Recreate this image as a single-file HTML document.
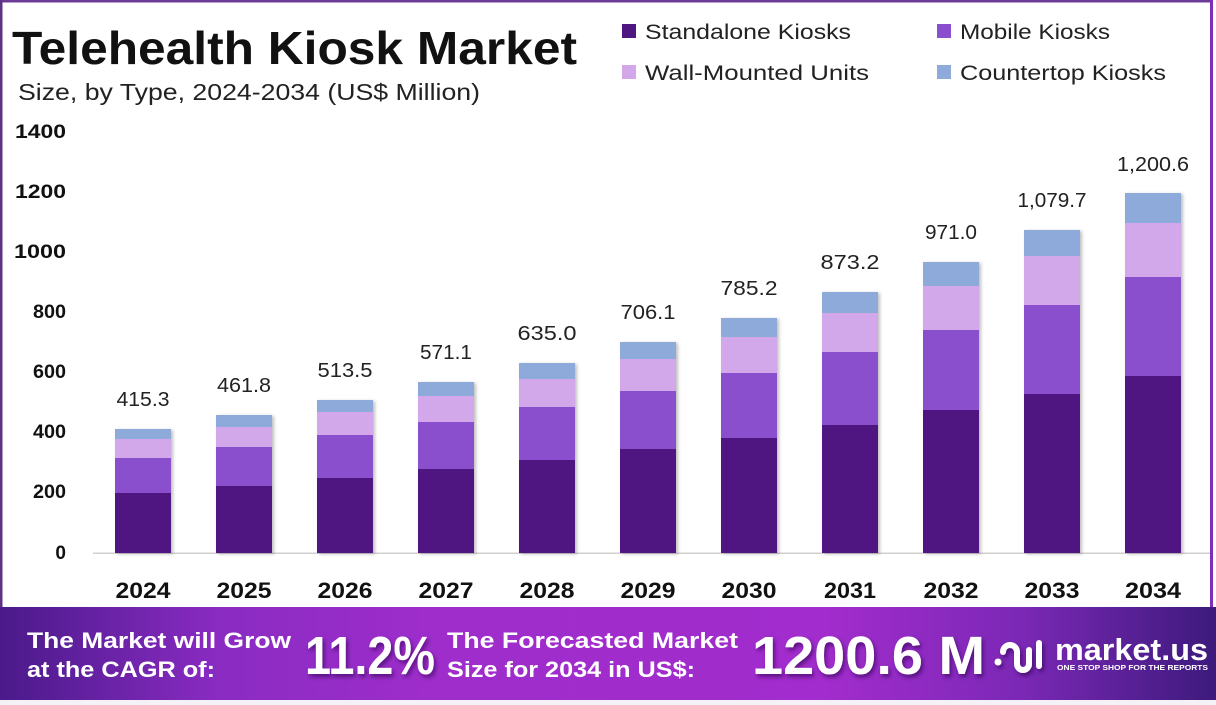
<!DOCTYPE html>
<html>
<head>
<meta charset="utf-8">
<style>
html,body{margin:0;padding:0;background:#fff;}
svg{display:block;}
text{font-family:"Liberation Sans", Arial, sans-serif;}
</style>
</head>
<body>
<svg width="1216" height="705" viewBox="0 0 1216 705" xmlns="http://www.w3.org/2000/svg">
<defs>
  <linearGradient id="ban" x1="0" y1="0" x2="1" y2="0">
    <stop offset="0" stop-color="#4a1a8a"/>
    <stop offset="0.18" stop-color="#8a2bc2"/>
    <stop offset="0.35" stop-color="#9e2dcb"/>
    <stop offset="0.68" stop-color="#a22ccd"/>
    <stop offset="0.84" stop-color="#7b28b6"/>
    <stop offset="1" stop-color="#3d1a7c"/>
  </linearGradient>
  <filter id="sh" x="-20%" y="-20%" width="150%" height="150%">
    <feDropShadow dx="2" dy="1" stdDeviation="1.5" flood-color="#000" flood-opacity="0.25"/>
  </filter>
  <filter id="tsh" x="-10%" y="-10%" width="130%" height="140%">
    <feDropShadow dx="2" dy="3" stdDeviation="2" flood-color="#2a0650" flood-opacity="0.6"/>
  </filter>
</defs>

<!-- frame -->
<rect x="0" y="0" width="1216" height="705" fill="#fff"/>
<rect x="0" y="0" width="1213" height="2.5" fill="#6c3b95"/>
<rect x="0" y="0" width="2.5" height="610" fill="#5e3386"/>
<rect x="1210" y="0" width="3" height="610" fill="#7a30bd"/>

<!-- title -->
<text x="12" y="64" font-size="46" font-weight="bold" fill="#111" textLength="565" lengthAdjust="spacingAndGlyphs">Telehealth Kiosk Market</text>
<text x="18" y="100" font-size="23" fill="#222" textLength="462" lengthAdjust="spacingAndGlyphs">Size, by Type, 2024-2034 (US$ Million)</text>

<!-- legend -->
<rect x="622" y="24" width="14" height="14" fill="#4f1681"/>
<text x="645" y="39" font-size="21" fill="#222" textLength="206" lengthAdjust="spacingAndGlyphs">Standalone Kiosks</text>
<rect x="937" y="24" width="14" height="14" fill="#8a4fcc"/>
<text x="960" y="39" font-size="21" fill="#222" textLength="150" lengthAdjust="spacingAndGlyphs">Mobile Kiosks</text>
<rect x="622" y="65" width="14" height="14" fill="#d2a8ea"/>
<text x="645" y="80" font-size="21" fill="#222" textLength="224" lengthAdjust="spacingAndGlyphs">Wall-Mounted Units</text>
<rect x="937" y="65" width="14" height="14" fill="#8eaadb"/>
<text x="960" y="80" font-size="21" fill="#222" textLength="206" lengthAdjust="spacingAndGlyphs">Countertop Kiosks</text>

<!-- y axis labels -->
<g font-size="19" font-weight="bold" fill="#111" text-anchor="end">
  <text x="66" y="138" textLength="51" lengthAdjust="spacingAndGlyphs">1400</text>
  <text x="66" y="198" textLength="51" lengthAdjust="spacingAndGlyphs">1200</text>
  <text x="66" y="258" textLength="52" lengthAdjust="spacingAndGlyphs">1000</text>
  <text x="66" y="318" textLength="33" lengthAdjust="spacingAndGlyphs">800</text>
  <text x="66" y="378" textLength="33" lengthAdjust="spacingAndGlyphs">600</text>
  <text x="66" y="438" textLength="33" lengthAdjust="spacingAndGlyphs">400</text>
  <text x="66" y="498" textLength="33" lengthAdjust="spacingAndGlyphs">200</text>
  <text x="66" y="559">0</text>
</g>

<!-- baseline -->
<rect x="93" y="552.5" width="1117" height="1.5" fill="#d0d0d0"/>

<!-- bars -->
<g filter="url(#sh)">
  <!-- 2024 -->
  <rect x="115" y="429" width="56" height="10" fill="#8eaadb"/>
  <rect x="115" y="439" width="56" height="19" fill="#d2a8ea"/>
  <rect x="115" y="458" width="56" height="35" fill="#8a4fcc"/>
  <rect x="115" y="493" width="56" height="60" fill="#4f1681"/>
  <!-- 2025 -->
  <rect x="216" y="415" width="56" height="12" fill="#8eaadb"/>
  <rect x="216" y="427" width="56" height="20" fill="#d2a8ea"/>
  <rect x="216" y="447" width="56" height="39" fill="#8a4fcc"/>
  <rect x="216" y="486" width="56" height="67" fill="#4f1681"/>
  <!-- 2026 -->
  <rect x="317" y="400" width="56" height="12" fill="#8eaadb"/>
  <rect x="317" y="412" width="56" height="23" fill="#d2a8ea"/>
  <rect x="317" y="435" width="56" height="43" fill="#8a4fcc"/>
  <rect x="317" y="478" width="56" height="75" fill="#4f1681"/>
  <!-- 2027 -->
  <rect x="418" y="382" width="56" height="14" fill="#8eaadb"/>
  <rect x="418" y="396" width="56" height="26" fill="#d2a8ea"/>
  <rect x="418" y="422" width="56" height="47" fill="#8a4fcc"/>
  <rect x="418" y="469" width="56" height="84" fill="#4f1681"/>
  <!-- 2028 -->
  <rect x="519" y="363" width="56" height="16" fill="#8eaadb"/>
  <rect x="519" y="379" width="56" height="28" fill="#d2a8ea"/>
  <rect x="519" y="407" width="56" height="53" fill="#8a4fcc"/>
  <rect x="519" y="460" width="56" height="93" fill="#4f1681"/>
  <!-- 2029 -->
  <rect x="620" y="342" width="56" height="17" fill="#8eaadb"/>
  <rect x="620" y="359" width="56" height="32" fill="#d2a8ea"/>
  <rect x="620" y="391" width="56" height="58" fill="#8a4fcc"/>
  <rect x="620" y="449" width="56" height="104" fill="#4f1681"/>
  <!-- 2030 -->
  <rect x="721" y="318" width="56" height="19" fill="#8eaadb"/>
  <rect x="721" y="337" width="56" height="36" fill="#d2a8ea"/>
  <rect x="721" y="373" width="56" height="65" fill="#8a4fcc"/>
  <rect x="721" y="438" width="56" height="115" fill="#4f1681"/>
  <!-- 2031 -->
  <rect x="822" y="292" width="56" height="21" fill="#8eaadb"/>
  <rect x="822" y="313" width="56" height="39" fill="#d2a8ea"/>
  <rect x="822" y="352" width="56" height="73" fill="#8a4fcc"/>
  <rect x="822" y="425" width="56" height="128" fill="#4f1681"/>
  <!-- 2032 -->
  <rect x="923" y="262" width="56" height="24" fill="#8eaadb"/>
  <rect x="923" y="286" width="56" height="44" fill="#d2a8ea"/>
  <rect x="923" y="330" width="56" height="80" fill="#8a4fcc"/>
  <rect x="923" y="410" width="56" height="143" fill="#4f1681"/>
  <!-- 2033 -->
  <rect x="1024" y="230" width="56" height="26" fill="#8eaadb"/>
  <rect x="1024" y="256" width="56" height="49" fill="#d2a8ea"/>
  <rect x="1024" y="305" width="56" height="89" fill="#8a4fcc"/>
  <rect x="1024" y="394" width="56" height="159" fill="#4f1681"/>
  <!-- 2034 -->
  <rect x="1125" y="193" width="56" height="30" fill="#8eaadb"/>
  <rect x="1125" y="223" width="56" height="54" fill="#d2a8ea"/>
  <rect x="1125" y="277" width="56" height="99" fill="#8a4fcc"/>
  <rect x="1125" y="376" width="56" height="177" fill="#4f1681"/>
</g>

<!-- value labels -->
<g font-size="20" fill="#222" text-anchor="middle">
  <text x="143" y="406" textLength="53" lengthAdjust="spacingAndGlyphs">415.3</text>
  <text x="244" y="392" textLength="54" lengthAdjust="spacingAndGlyphs">461.8</text>
  <text x="345" y="377" textLength="55" lengthAdjust="spacingAndGlyphs">513.5</text>
  <text x="446" y="359" textLength="52" lengthAdjust="spacingAndGlyphs">571.1</text>
  <text x="547" y="340" textLength="59" lengthAdjust="spacingAndGlyphs">635.0</text>
  <text x="648" y="319" textLength="55" lengthAdjust="spacingAndGlyphs">706.1</text>
  <text x="749" y="295" textLength="57" lengthAdjust="spacingAndGlyphs">785.2</text>
  <text x="850" y="269" textLength="59" lengthAdjust="spacingAndGlyphs">873.2</text>
  <text x="951" y="239" textLength="52" lengthAdjust="spacingAndGlyphs">971.0</text>
  <text x="1052" y="207" textLength="69" lengthAdjust="spacingAndGlyphs">1,079.7</text>
  <text x="1153" y="171" textLength="72" lengthAdjust="spacingAndGlyphs">1,200.6</text>
</g>

<!-- year labels -->
<g font-size="22" font-weight="bold" fill="#111" text-anchor="middle">
  <text x="143" y="598" textLength="55" lengthAdjust="spacingAndGlyphs">2024</text>
  <text x="244" y="598" textLength="55" lengthAdjust="spacingAndGlyphs">2025</text>
  <text x="345" y="598" textLength="55" lengthAdjust="spacingAndGlyphs">2026</text>
  <text x="446" y="598" textLength="55" lengthAdjust="spacingAndGlyphs">2027</text>
  <text x="547" y="598" textLength="55" lengthAdjust="spacingAndGlyphs">2028</text>
  <text x="648" y="598" textLength="55" lengthAdjust="spacingAndGlyphs">2029</text>
  <text x="749" y="598" textLength="55" lengthAdjust="spacingAndGlyphs">2030</text>
  <text x="850" y="598" textLength="52" lengthAdjust="spacingAndGlyphs">2031</text>
  <text x="951" y="598" textLength="55" lengthAdjust="spacingAndGlyphs">2032</text>
  <text x="1052" y="598" textLength="55" lengthAdjust="spacingAndGlyphs">2033</text>
  <text x="1153" y="598" textLength="56" lengthAdjust="spacingAndGlyphs">2034</text>
</g>

<!-- banner -->
<rect x="0" y="607" width="1216" height="93" fill="url(#ban)"/>
<rect x="0" y="700" width="1216" height="5" fill="#f4f2f6"/>

<g font-weight="bold" fill="#fff">
  <text x="27" y="648" font-size="22" textLength="264" lengthAdjust="spacingAndGlyphs">The Market will Grow</text>
  <text x="27" y="677" font-size="22" textLength="188" lengthAdjust="spacingAndGlyphs">at the CAGR of:</text>
  <text x="305" y="674" font-size="54" textLength="130" lengthAdjust="spacingAndGlyphs" filter="url(#tsh)">11.2%</text>
  <text x="447" y="648" font-size="22" textLength="291" lengthAdjust="spacingAndGlyphs">The Forecasted Market</text>
  <text x="447" y="677" font-size="22" textLength="248" lengthAdjust="spacingAndGlyphs">Size for 2034 in US$:</text>
  <text x="752" y="674" font-size="54" textLength="233" lengthAdjust="spacingAndGlyphs" filter="url(#tsh)">1200.6 M</text>
</g>

<!-- logo -->
<g fill="none" stroke="#fff" stroke-width="6" stroke-linecap="round" filter="url(#tsh)">
  <circle cx="998" cy="662" r="3.5" fill="#fff" stroke="none"/>
  <path d="M1003 652 a7 7 0 0 1 14 0 V664 a6 6 0 0 0 12 0 V650"/>
  <path d="M1039 643 V666"/>
</g>
<text x="1055" y="660" font-size="31" font-weight="bold" fill="#fff" textLength="153" lengthAdjust="spacingAndGlyphs">market.us</text>
<text x="1057" y="670" font-size="7.5" font-weight="bold" fill="#fff" textLength="151" lengthAdjust="spacingAndGlyphs">ONE STOP SHOP FOR THE REPORTS</text>
</svg>
</body>
</html>
